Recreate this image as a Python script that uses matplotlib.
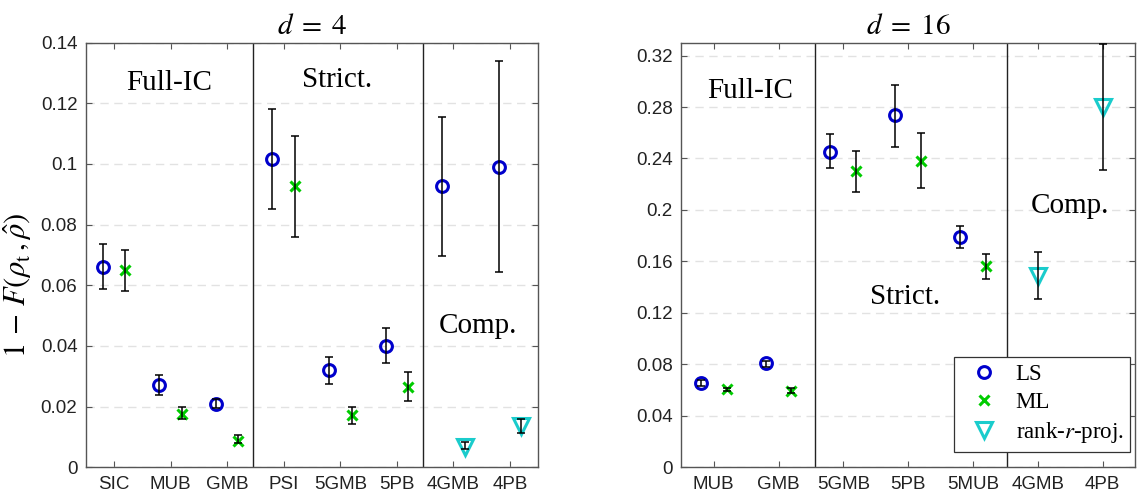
import matplotlib
matplotlib.use("Agg")
import matplotlib.pyplot as plt
import numpy as np
from matplotlib.ticker import FuncFormatter

plt.rcParams['mathtext.fontset'] = 'stix'
plt.rcParams['font.family'] = 'Liberation Sans'

# ---- data, d = 4 ----
cats_d4 = ['SIC', 'MUB', 'GMB', 'PSI', '5GMB', '5PB', '4GMB', '4PB']
ls_d4 = [0.0659, 0.0272, 0.0208, 0.1016, 0.0322, 0.0400, 0.0926, 0.0991]
ls_d4_lo = [0.0587, 0.0240, 0.0195, 0.0853, 0.0274, 0.0343, 0.0697, 0.0643]
ls_d4_hi = [0.0735, 0.0305, 0.0225, 0.1182, 0.0365, 0.0458, 0.1155, 0.1340]
ml_d4 = [0.0650, 0.0177, 0.0087, 0.0926, 0.0173, 0.0266]
ml_d4_lo = [0.0580, 0.0160, 0.0080, 0.0760, 0.0144, 0.0219]
ml_d4_hi = [0.0716, 0.0200, 0.0105, 0.1093, 0.0200, 0.0313]
rk_d4 = [0.0067, 0.0135]
rk_d4_lo = [0.0062, 0.0113]
rk_d4_hi = [0.0085, 0.0160]

# ---- data, d = 16 ----
cats_d16 = ['MUB', 'GMB', '5GMB', '5PB', '5MUB', '4GMB', '4PB']
ls_d16 = [0.0658, 0.0808, 0.2454, 0.2734, 0.1788]
ls_d16_lo = [0.0635, 0.0780, 0.2325, 0.2493, 0.1705]
ls_d16_hi = [0.0680, 0.0830, 0.2591, 0.2972, 0.1878]
ml_d16 = [0.0606, 0.0596, 0.2301, 0.2381, 0.1565]
ml_d16_lo = [0.0590, 0.0575, 0.2143, 0.2169, 0.1466]
ml_d16_hi = [0.0620, 0.0615, 0.2459, 0.2599, 0.1658]
rk_d16 = [0.1487, 0.2799]
rk_d16_lo = [0.1308, 0.2309]
rk_d16_hi = [0.1674, 0.3293]

c_ls = (0, 0, 0.8)
c_ml = (0, 0.8, 0)
c_rk = (0.1, 0.8, 0.8)
spine_col = '#555555'
serif = 'Liberation Serif'


def series(ax, x, y, lo, hi, color, marker, ms, label):
    x = np.asarray(x, float)
    y = np.asarray(y)
    ax.plot(x, y, linestyle='none', marker=marker, ms=ms, mew=2.2,
            mfc='none', mec=color, color=color, label=label, zorder=3)
    yerr = [y - np.asarray(lo), np.asarray(hi) - y]
    ax.errorbar(x, y, yerr=yerr, fmt='none', ecolor='black', elinewidth=1.1,
                capsize=3, capthick=1.1, zorder=4)


def style_axes(ax, cats, ylim, yticks, vlines):
    n = len(cats)
    ax.set_xlim(0.5, n + 0.5)
    ax.set_ylim(*ylim)
    ax.set_xticks(np.arange(1, n + 1))
    ax.set_xticklabels(cats)
    ax.set_yticks(yticks)
    ax.yaxis.set_major_formatter(FuncFormatter(lambda v, p: '%g' % round(v, 4)))
    ax.tick_params(direction='in', length=4, width=0.8, colors=spine_col,
                   labelcolor='#222222', labelsize=13.5, top=True, right=True, pad=6)
    for s in ax.spines.values():
        s.set_color(spine_col)
        s.set_linewidth(1.0)
    ax.yaxis.grid(True, color='#e2e2e2', linestyle=(0, (6, 4)), linewidth=1.0)
    ax.set_axisbelow(True)
    for v in vlines:
        ax.axvline(v, color='#222222', linewidth=1.0, zorder=2)


fig = plt.figure(figsize=(11.37, 4.99), dpi=100)
ax1 = fig.add_axes([0.0754, 0.0635, 0.398, 0.851])
ax2 = fig.add_axes([0.5992, 0.0635, 0.399, 0.851])

# left panel
x4 = np.arange(1, len(cats_d4) + 1)
series(ax1, x4 - 0.2, ls_d4, ls_d4_lo, ls_d4_hi, c_ls, 'o', 8.5, 'LS')
series(ax1, x4[:6] + 0.2, ml_d4, ml_d4_lo, ml_d4_hi, c_ml, 'x', 7.5, 'ML')
series(ax1, x4[6:] + 0.2, rk_d4, rk_d4_lo, rk_d4_hi, c_rk, 'v', 11, r'rank-$r$-proj.')
style_axes(ax1, cats_d4, (0, 0.14), np.arange(0, 0.141, 0.02), [3.45, 6.46])
ax1.set_title(r'$d\;=\;4$', fontsize=21, pad=6)
ax1.set_ylabel(r'$1\,-\,F(\rho_{\mathrm{t}}\,,\hat{\rho})$', fontsize=22)
ax1.yaxis.set_label_coords(-0.115, 0.43)
ax1.text(1.97, 0.1266, 'Full-IC', family=serif, fontsize=21, ha='center', va='center')
ax1.text(4.94, 0.1276, 'Strict.', family=serif, fontsize=21, ha='center', va='center')
ax1.text(7.44, 0.0467, 'Comp.', family=serif, fontsize=21, ha='center', va='center')

# right panel
x16 = np.arange(1, len(cats_d16) + 1)
series(ax2, x16[:5] - 0.2, ls_d16, ls_d16_lo, ls_d16_hi, c_ls, 'o', 8.5, 'LS')
series(ax2, x16[:5] + 0.2, ml_d16, ml_d16_lo, ml_d16_hi, c_ml, 'x', 7.5, 'ML')
series(ax2, x16[5:], rk_d16, rk_d16_lo, rk_d16_hi, c_rk, 'v', 11, r'rank-$r$-proj.')
style_axes(ax2, cats_d16, (0, 0.33), np.arange(0, 0.321, 0.04), [2.56, 5.53])
ax2.set_title(r'$d\;=\;16$', fontsize=21, pad=6)
ax2.text(1.56, 0.2927, 'Full-IC', family=serif, fontsize=21, ha='center', va='center')
ax2.text(3.96, 0.1326, 'Strict.', family=serif, fontsize=21, ha='center', va='center')
ax2.text(6.5, 0.2034, 'Comp.', family=serif, fontsize=21, ha='center', va='center')

leg = ax2.legend(loc='lower right', bbox_to_anchor=(0.99, 0.037), prop={'family': serif, 'size': 16.5},
                 frameon=True, fancybox=False, framealpha=1, edgecolor='#333333',
                 borderpad=0.3, labelspacing=0.3, handletextpad=0.4, handlelength=2.0, borderaxespad=0)
leg.get_frame().set_linewidth(0.9)

fig.savefig('out.png', dpi=100)
